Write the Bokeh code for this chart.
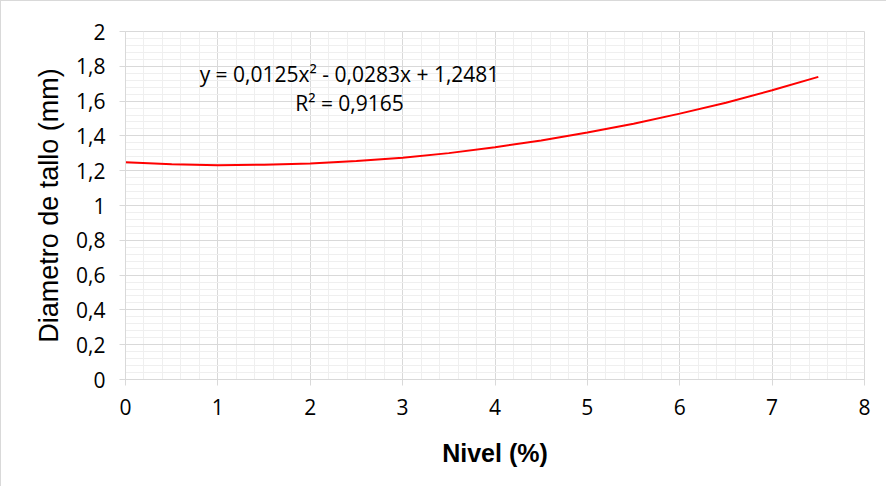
from bokeh.plotting import figure
from bokeh.embed import file_html
from bokeh.resources import INLINE
from bokeh.models import Label, FixedTicker, Range1d

# Trend curve
nivel = [0, 0.5, 1, 1.5, 2, 2.5, 3, 3.5, 4, 4.5, 5, 5.5, 6, 6.5, 7, 7.5]
diametro = [1.248, 1.237, 1.232, 1.234, 1.241, 1.256, 1.275, 1.301, 1.335,
            1.373, 1.419, 1.470, 1.528, 1.591, 1.662, 1.739]

x_ticks = [0, 1, 2, 3, 4, 5, 6, 7, 8]
y_ticks = [0, 0.2, 0.4, 0.6, 0.8, 1.0, 1.2, 1.4, 1.6, 1.8, 2.0]
y_tick_labels = ["0", "0,2", "0,4", "0,6", "0,8", "1", "1,2", "1,4", "1,6", "1,8", "2"]
eq_text = "y = 0,0125x² - 0,0283x + 1,2481"
r2_text = "R² = 0,9165"

p = figure(width=886, height=486, output_backend="svg", toolbar_location=None,
           x_range=Range1d(0, 8), y_range=Range1d(0, 2),
           min_border_left=124, min_border_right=23, min_border_top=30,
           min_border_bottom=108)
p.styles = {"border-left": "1px solid #d9d9d9", "border-top": "1px solid #d9d9d9"}
p.outline_line_color = "#d9d9d9"
p.outline_line_width = 1

p.line(nivel, diametro, line_color="#ff0000", line_width=2)

for ax, ticks in ((p.xaxis, x_ticks), (p.yaxis, y_ticks)):
    step = ticks[1] - ticks[0]
    ax.ticker = FixedTicker(ticks=ticks,
                            minor_ticks=[i * step / 5 for i in range(0, 5 * (len(ticks) - 1) + 1)])
    ax.axis_line_color = "#d9d9d9"
    ax.major_tick_line_color = "#d9d9d9"
    ax.major_tick_out = 6
    ax.major_tick_in = 0
    ax.minor_tick_line_color = None
    ax.major_label_text_font = "Open Sans"
    ax.major_label_text_font_size = "21px"
    ax.major_label_text_color = "#000000"
    ax.axis_label_text_color = "#000000"
    ax.axis_label_text_font = "Liberation Sans"

p.yaxis.major_label_overrides = {t: l for t, l in zip(y_ticks, y_tick_labels)}
p.xaxis.axis_label = "Nivel (%)"
p.xaxis.axis_label_text_font_style = "bold"
p.xaxis.axis_label_text_font_size = "25px"
p.xaxis.major_label_standoff = 13
p.xaxis.axis_label_standoff = 21
p.yaxis.axis_label = "Diametro de tallo (mm)"
p.yaxis.axis_label_text_font_style = "normal"
p.yaxis.axis_label_text_font_size = "27px"
p.yaxis.major_label_standoff = 14
p.yaxis.axis_label_standoff = 9

for g in (p.xgrid, p.ygrid):
    g.grid_line_color = "#d9d9d9"
    g.minor_grid_line_color = "#efefef"

p.add_layout(Label(x=2.425, y=1.755, text=eq_text, text_align="center",
                   text_baseline="middle", text_font="Open Sans",
                   text_font_size="21px", text_color="#000000"))
p.add_layout(Label(x=2.425, y=1.587, text=r2_text, text_align="center",
                   text_baseline="middle", text_font="Open Sans",
                   text_font_size="21px", text_color="#000000"))

open("out.html", "w").write(file_html(p, INLINE))
